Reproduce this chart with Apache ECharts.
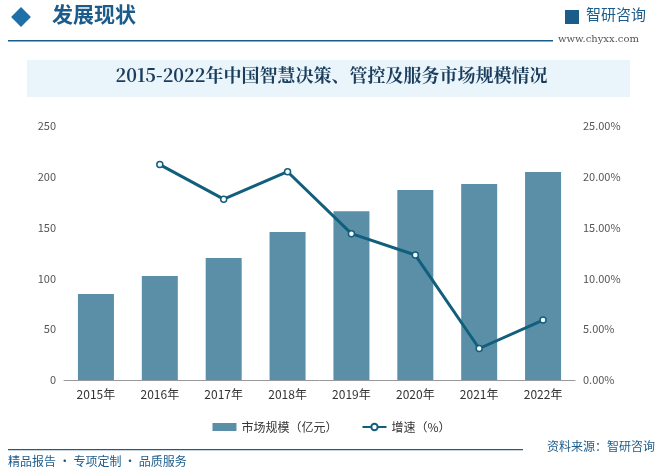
<!DOCTYPE html>
<html><head><meta charset="utf-8">
<script src="https://cdn.jsdelivr.net/npm/echarts@6/dist/echarts.min.js"></script>
<style>html,body{margin:0;padding:0;background:#fff}#c{width:663px;height:476px}</style>
</head><body><div id="c"></div>
<script>
var years = ['2015年','2016年','2017年','2018年','2019年','2020年','2021年','2022年'];
var marketSize = [84.6, 102.4, 120, 145.7, 166, 187, 193, 204.7];
var growth = [null, 21.2, 17.8, 20.5, 14.4, 12.3, 3.1, 5.9];

var chart = echarts.init(document.getElementById('c'));
var font = '"Noto Sans CJK SC", sans-serif';
chart.setOption({
  textStyle: { fontFamily: font },
  graphic: [
    { type: 'rect', shape: { x: 14, y: 10, width: 14, height: 14 }, rotation: Math.PI / 4, originX: 21, originY: 17, style: { fill: '#1f6fa8' } },
    { type: 'text', left: 52, top: 4, style: { text: '发展现状', fill: '#1c5c8a', font: 'bold 21px ' + font } },
    { type: 'rect', shape: { x: 8, y: 40, width: 545, height: 1.5 }, style: { fill: '#1c5c8a' } },
    { type: 'text', left: 586, top: 7, style: { text: '智研咨询', fill: '#1c5c8a', font: '15px ' + font } },
    { type: 'rect', shape: { x: 565, y: 10, width: 14, height: 14 }, style: { fill: '#1c5c8a' } },
    { type: 'text', left: 558, top: 34, style: { text: 'www.chyxx.com', fill: '#555', font: '10px "DejaVu Serif", serif' } },
    { type: 'rect', shape: { x: 27, y: 60, width: 603, height: 37 }, style: { fill: '#e9f4fb' } },
    { type: 'text', left: 'center', top: 66, style: { text: '2015-2022年中国智慧决策、管控及服务市场规模情况', fill: '#1a3d5c', font: 'bold 18px "Noto Serif CJK SC", "Noto Sans CJK SC", serif' } },
    { type: 'rect', shape: { x: 8, y: 449, width: 515, height: 1.2 }, style: { fill: '#1c5c8a' } },
    { type: 'text', left: 8, top: 455, style: { text: '精品报告 · 专项定制 · 品质服务', fill: '#1c5c8a', font: '12px ' + font } },
    { type: 'text', right: 8, top: 440, style: { text: '资料来源：智研咨询', fill: '#1c5c8a', font: '12px ' + font } }
  ],
  legend: {
    bottom: 38, left: 'center', itemGap: 24, itemWidth: 24, itemHeight: 8,
    textStyle: { color: '#333', fontSize: 12 },
    data: [{ name: '市场规模（亿元）', icon: 'rect' }, { name: '增速（%）' }]
  },
  grid: { left: 64, right: 88, top: 126, bottom: 96 },
  xAxis: {
    type: 'category', data: years,
    axisLine: { lineStyle: { color: '#999' } }, axisTick: { show: false },
    axisLabel: { color: '#333', fontSize: 12 }
  },
  yAxis: [
    { type: 'value', min: 0, max: 250, interval: 50, axisLabel: { color: '#555', fontSize: 11 }, splitLine: { show: false }, axisLine: { show: false } },
    { type: 'value', min: 0, max: 25, interval: 5, axisLabel: { color: '#555', fontSize: 11, formatter: function (v) { return v.toFixed(2) + '%'; } }, splitLine: { show: false }, axisLine: { show: false } }
  ],
  series: [
    { name: '市场规模（亿元）', type: 'bar', data: marketSize, barWidth: 36, itemStyle: { color: '#5b8fa8' } },
    { name: '增速（%）', type: 'line', yAxisIndex: 1, data: growth, symbol: 'circle', symbolSize: 6,
      lineStyle: { color: '#115e7d', width: 3 }, itemStyle: { color: '#fff', borderColor: '#115e7d', borderWidth: 1.5 } }
  ]
});
</script></body></html>
